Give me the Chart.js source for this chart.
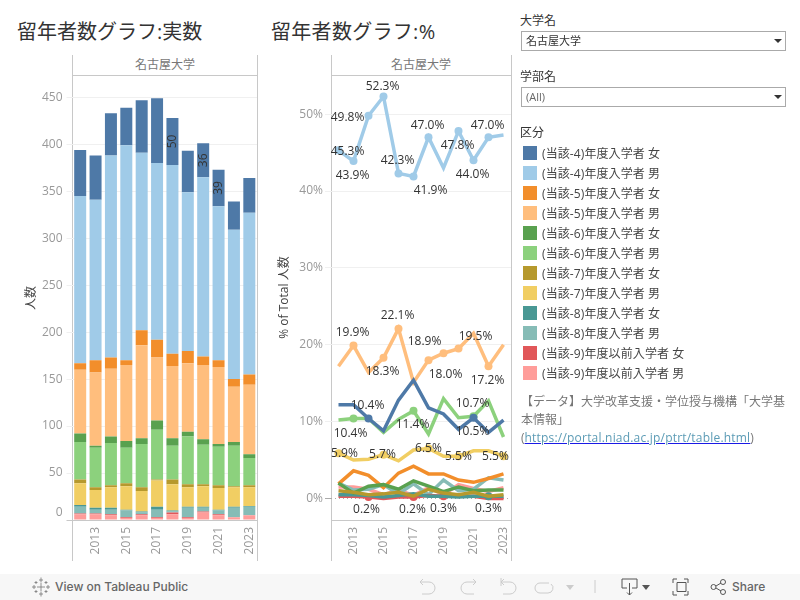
<!DOCTYPE html>
<html lang="ja">
<head>
<meta charset="utf-8">
<title>留年者数グラフ</title>
<script src="https://cdn.jsdelivr.net/npm/chart.js@4"></script>
<style>
    html, body { margin: 0; padding: 0; background: #fff; }
    body { width: 800px; height: 600px; position: relative; overflow: hidden;
           font-family: "Open Sans", "Noto Sans CJK JP", sans-serif; color: #333; }
    .abs { position: absolute; white-space: nowrap; }
    .title { font-size: 20px; color: #333; top: 18px; line-height: 28px; }
    .facet { top: 55px; height: 20px; line-height: 20px; text-align: center; font-size: 12px; color: #777; }
    .vline { top: 55px; width: 1px; height: 506px; background: #c8c8c8; }
    .hline { top: 75px; height: 1px; background: #c8c8c8; }
    canvas { position: absolute; }
    .flabel { left: 520px; font-size: 12px; color: #333; line-height: 16px; }
    .select { left: 521px; height: 18px; border: 1px solid #aaa; font-size: 11px;
              line-height: 18px; padding-left: 4px; box-sizing: content-box; width: 259px; }
    .select i { position: absolute; right: 3px; top: 7px; width: 0; height: 0;
                border-left: 4px solid transparent; border-right: 4px solid transparent; border-top: 4px solid #333; }
    .swatch { left: 523px; width: 14px; height: 14px; }
    .ltext { left: 542px; font-size: 12px; line-height: 20px; color: #444; letter-spacing: 0.1px; }
    .source { left: 521px; top: 393px; width: 265px; white-space: normal; font-size: 12px; line-height: 18px; color: #777; }
    .source a { color: #5b9bb5; text-decoration-color: #1a1ae6; letter-spacing: 0.2px; }
    .bar { left: 0; top: 574px; width: 800px; height: 26px; background: #f7f7f7; }
    .bar span { position: absolute; top: 5px; font-family: Inter, sans-serif; font-size: 12px; font-weight: 500; color: #666; line-height: 16px; }
    .bar svg { position: absolute; left: 0; top: 0; }
</style>
</head>
<body>
<div class="abs title" style="left:17px">留年者数グラフ:実数</div>
<div class="abs title" style="left:271px;letter-spacing:0.3px">留年者数グラフ:%</div>

<div class="abs facet" style="left:73px;width:184px">名古屋大学</div>
<div class="abs facet" style="left:331px;width:180px">名古屋大学</div>
<div class="abs hline" style="left:72px;width:186px"></div>
<div class="abs hline" style="left:331px;width:181px"></div>
<div class="abs vline" style="left:72px"></div>
<div class="abs vline" style="left:257px"></div>
<div class="abs vline" style="left:331px"></div>
<div class="abs vline" style="left:511px"></div>

<canvas id="count_chart" width="253" height="497" style="left:14px;top:65px"></canvas>
<canvas id="pct_chart" width="246" height="497" style="left:275px;top:65px"></canvas>

<div class="abs flabel" style="top:13px">大学名</div>
<div class="abs select" style="top:31px">名古屋大学<i></i></div>
<div class="abs flabel" style="top:69px">学部名</div>
<div class="abs select" style="top:87px;color:#666">(All)<i></i></div>
<div class="abs flabel" style="top:125px">区分</div>
<div id="legend"></div>
<div class="abs source">【データ】大学改革支援・学位授与機構「大学基本情報」<br>(<a href="#">https://portal.niad.ac.jp/ptrt/table.html</a>)</div>

<div class="abs bar">
    <svg width="800" height="26" fill="none" stroke="#ccc" stroke-width="1">
        <path stroke="#777" stroke-width="0.8" d="M41 9v8M37 13h8M41 3.500v5M39 6h4M41 17.500v5M39 20h4M34 11v4M32 13h4M48 11v4M46 13h4M36 7v3M34.500 8.500h3M46 7v3M44.500 8.500h3M36 16v3M34.500 17.500h3M46 16v3M44.500 17.500h3"/>
        <path d="M420 8h9a6 6 0 0 1 0 12h-7M423 5l-3 3 3 3"/>
        <path d="M476 8h-9a6 6 0 0 0 0 12h7M473 5l3 3-3 3"/>
        <path d="M501 4v8M501 8h9a6 6 0 0 1 0 12h-7M504 5l-3 3 3 3"/>
        <path d="M549 9h-9a5 5 0 0 0 0 10h8a5 5 0 0 0 3-9"/>
        <path d="M566 11h8l-4 5z" fill="#ccc" stroke="none"/>
        <path d="M595 6v13"/>
        <g stroke="#555">
            <path d="M627 14h-5V5h15v9h-5M629.500 9v12M627 18.500l2.500 2.500 2.500-2.500"/>
            <path d="M673 9V5h4M684 5h4v4M673 17v4h4M684 21h4v-4M677 8.500h9v9h-9z"/>
            <circle cx="713.500" cy="13" r="2.500"/><circle cx="723" cy="8" r="2.500"/><circle cx="723" cy="18" r="2.500"/>
            <path d="M716 12l5-3M716 14l5 3"/>
        </g>
        <path d="M642 11h8l-4 5z" fill="#555" stroke="none"/>
    </svg>
    <span style="left:55px">View on Tableau Public</span>
    <span style="left:732px">Share</span>
</div>

<script>
// Dati
const years = ['2012', '2013', '2014', '2015', '2016', '2017', '2018', '2019', '2020', '2021', '2022', '2023'];
const countTicks = [0, 50, 100, 150, 200, 250, 300, 350, 400, 450];
const pctTicks = [0, 10, 20, 30, 40, 50];

const seriesNames = [
    '(当該-4)年度入学者 女', '(当該-4)年度入学者 男',
    '(当該-5)年度入学者 女', '(当該-5)年度入学者 男',
    '(当該-6)年度入学者 女', '(当該-6)年度入学者 男',
    '(当該-7)年度入学者 女', '(当該-7)年度入学者 男',
    '(当該-8)年度入学者 女', '(当該-8)年度入学者 男',
    '(当該-9)年度以前入学者 女', '(当該-9)年度以前入学者 男'
];
const seriesColors = ['#4e79a7', '#a0cbe8', '#f28e2b', '#ffbe7d', '#59a14f', '#8cd17d',
                      '#b6992d', '#f1ce63', '#499894', '#86bcb6', '#e15759', '#ff9d9a'];

// Valori assoluti
const countY4F = [49, 47, 45, 40, 56, 69, 50, 44, 36, 39, 30, 37];
const countY4M = [178, 171, 215, 229, 189, 188, 201, 169, 191, 164, 159, 172];
const countY5F = [7, 13, 12, 5, 16, 19, 13, 13, 9, 7, 8, 11];
const countY5M = [68, 78, 72, 81, 99, 67, 77, 73, 79, 82, 59, 74];
const countY6F = [9, 2, 7, 7, 6, 10, 8, 5, 6, 3, 4, 4];
const countY6M = [40, 42, 45, 38, 46, 53, 36, 51, 42, 41, 43, 29];
const countY7F = [4, 3, 2, 3, 4, 1, 5, 3, 2, 3, 1, 2];
const countY7M = [23, 19, 22, 25, 22, 28, 28, 21, 22, 23, 21, 20];
const countY8F = [2, 2, 2, 1, 1, 3, 1, 1, 1, 1, 1, 1];
const countY8M = [7, 4, 5, 7, 2, 8, 1, 10, 4, 4, 10, 9];
const countY9F = [1, 1, 1, 1, 1, 1, 2, 1, 1, 1, 0, 0];
const countY9M = [6, 6, 5, 2, 5, 2, 6, 2, 8, 5, 3, 5];

// Percentuali
const pctY4F = [12.2, 12.2, 10.4, 8.8, 12.8, 15.4, 11.8, 11.0, 9.0, 10.5, 8.6, 10.2];
const pctY4M = [45.3, 43.9, 49.8, 52.3, 42.3, 41.9, 47.0, 43.0, 47.8, 44.0, 47.0, 47.3];
const pctY5F = [1.9, 3.6, 3.0, 1.4, 3.3, 4.2, 3.2, 3.2, 2.4, 2.1, 2.6, 3.2];
const pctY5M = [17.2, 19.9, 16.4, 18.3, 22.1, 15.1, 18.0, 18.9, 19.5, 21.5, 17.2, 20.0];
const pctY6F = [2.0, 0.7, 1.6, 1.8, 1.2, 2.3, 1.6, 0.9, 1.5, 1.0, 1.1, 1.1];
const pctY6M = [10.2, 10.4, 10.4, 8.6, 10.3, 11.4, 8.4, 13.0, 10.5, 10.7, 12.7, 8.0];
const pctY7F = [1.0, 0.8, 0.5, 0.6, 0.8, 0.3, 1.2, 0.7, 0.5, 0.8, 0.3, 0.5];
const pctY7M = [5.9, 5.0, 5.1, 5.7, 4.9, 6.3, 6.5, 5.5, 5.5, 6.2, 6.2, 5.5];
const pctY8F = [0.5, 0.5, 0.4, 0.2, 0.4, 0.6, 0.3, 0.3, 0.2, 0.3, 0.3, 0.3];
const pctY8M = [2.0, 1.1, 1.2, 1.8, 0.6, 1.9, 0.5, 2.4, 1.0, 1.2, 2.7, 2.4];
const pctY9F = [0.3, 0.3, 0.2, 0.0, 0.2, 0.2, 0.4, 0.3, 0.3, 0.3, 0.0, 0.0];
const pctY9M = [1.5, 1.5, 1.2, 0.5, 1.1, 0.4, 1.4, 0.5, 1.8, 1.3, 0.9, 1.4];

const countSeries = [countY4F, countY4M, countY5F, countY5M, countY6F, countY6M, countY7F, countY7M, countY8F, countY8M, countY9F, countY9M];
const pctSeries = [pctY4F, pctY4M, pctY5F, pctY5M, pctY6F, pctY6M, pctY7F, pctY7M, pctY8F, pctY8M, pctY9F, pctY9M];

// Ordine di impilamento e di disegno (indici di seriesNames)
const stackOrder = [11, 10, 9, 8, 7, 6, 5, 4, 3, 2, 1, 0];
const lineOrder = [0, 6, 4, 2, 8, 10, 1, 3, 5, 7, 9, 11];

// Etichette: [serie, anno, dx, dy]
const countLabels = [[0, 6], [0, 8], [0, 9]];
const pctLabels = [
    [1, 0, 9, 1], [1, 1, -1, 14], [1, 2, -21, 2], [1, 3, -1, -10], [1, 4, -1, -13],
    [1, 5, 17, 14], [1, 6, -1, -12], [1, 8, -1, 14], [1, 9, -1, 14], [1, 10, -1, -12],
    [3, 1, -1, -13], [3, 3, -1, 14], [3, 4, -1, -13], [3, 6, 17, 14], [3, 7, -19, -12],
    [3, 8, 17, -12], [3, 10, -1, 14],
    [0, 2, -1, -13], [0, 9, -1, 14],
    [5, 1, -3, 15], [5, 5, -1, 14], [5, 9, -1, -13],
    [7, 0, 6, 0], [7, 3, -1, 0], [7, 6, 0, 0], [7, 8, 0, 0], [7, 11, -8, 0],
    [10, 2, -2, 13], [10, 5, -1, 13], [10, 7, 0, 12], [8, 10, 0, 12]
];

const tickGrey = '#999';
const baseFont = '"Open Sans", "Noto Sans CJK JP", sans-serif';
// margini per far entrare le etichette degli assi senza restringere l'area del grafico
const chartPadding = { top: 10, right: 10 };

// Legenda
const legendBox = document.getElementById('legend');
seriesNames.forEach((name, i) => {
    const top = 146 + i * 20;
    legendBox.insertAdjacentHTML('beforeend',
        `<div class="abs swatch" style="top:${top}px;background:${seriesColors[i]}"></div>` +
        `<div class="abs ltext" style="top:${top - 2}px">${name}</div>`);
});

// Etichette sui punti e sulle barre
const markLabels = {
    id: 'markLabels',
    afterDatasetsDraw(chart, args, opts) {
        const ctx = chart.ctx;
        ctx.save();
        ctx.fillStyle = '#333';
        ctx.font = '12px ' + baseFont;
        ctx.textAlign = 'center';
        ctx.textBaseline = 'middle';
        opts.items.forEach(item => {
            const dsIndex = chart.data.datasets.findIndex(d => d.seriesIndex === item[0]);
            const el = chart.getDatasetMeta(dsIndex).data[item[1]];
            const value = chart.data.datasets[dsIndex].data[item[1]];
            if (opts.rotated) {
                const mid = el.getCenterPoint();
                ctx.save();
                ctx.translate(mid.x, mid.y);
                ctx.rotate(-Math.PI / 2);
                ctx.fillText(String(value), 0, 0);
                ctx.restore();
            } else {
                ctx.fillText(value.toFixed(1) + '%', el.x + item[2], el.y + item[3]);
            }
        });
        ctx.restore();
    }
};

function commonX() {
    return {
        grid: { display: false },
        border: { color: '#c8c8c8' },
        afterFit: scale => { scale.height = 42; },
        ticks: {
            autoSkip: false,
            minRotation: 90,
            maxRotation: 90,
            padding: -1,
            color: tickGrey,
            font: { size: 12, family: baseFont },
            callback: (value, index) => (index % 2 === 1 ? years[index] : '')
        }
    };
}

new Chart(document.getElementById('count_chart').getContext('2d'), {
    type: 'bar',
    plugins: [markLabels],
    data: {
        labels: years,
        datasets: stackOrder.map(i => ({
            label: seriesNames[i],
            seriesIndex: i,
            data: countSeries[i],
            backgroundColor: seriesColors[i],
            borderWidth: 0,
            barPercentage: 0.78,
            categoryPercentage: 1
        }))
    },
    options: {
        responsive: false,
        animation: false,
        layout: { padding: chartPadding },
        plugins: {
            legend: { display: false },
            title: { display: false },
            tooltip: { enabled: false },
            markLabels: { items: countLabels, rotated: true }
        },
        scales: {
            x: { ...commonX(), stacked: true },
            y: {
                stacked: true,
                min: 0,
                max: 472.5,
                afterFit: scale => { scale.width = 58.5; },
                afterBuildTicks: scale => { scale.ticks = countTicks.map(v => ({ value: v })); },
                border: { display: false },
                grid: {
                    tickLength: 6,
                    color: ctx => (ctx.tick && ctx.tick.value === 0 ? '#c8c8c8' : '#f0f0f0')
                },
                title: { display: true, text: '人数', color: '#444', font: { size: 12, family: baseFont }, padding: { top: 10, bottom: 0 } },
                ticks: {
                    padding: 4,
                    color: tickGrey,
                    font: { size: 12, family: baseFont },
                    // lo zero sta dentro il riquadro, sopra l'asse
                    callback: value => (value === 0 ? ['0', ''] : String(value))
                }
            }
        }
    }
});

new Chart(document.getElementById('pct_chart').getContext('2d'), {
    type: 'line',
    plugins: [markLabels],
    data: {
        labels: years,
        datasets: lineOrder.map(i => ({
            label: seriesNames[i],
            seriesIndex: i,
            data: pctSeries[i],
            borderColor: seriesColors[i],
            backgroundColor: seriesColors[i],
            borderWidth: 3.5,
            tension: 0,
            clip: false,
            pointBorderWidth: 0,
            pointRadius: years.map((y, k) => (pctLabels.some(l => l[0] === i && l[1] === k) ? 4 : 0))
        }))
    },
    options: {
        responsive: false,
        animation: false,
        layout: { padding: chartPadding },
        plugins: {
            legend: { display: false },
            title: { display: false },
            tooltip: { enabled: false },
            markLabels: { items: pctLabels, rotated: false }
        },
        scales: {
            x: { ...commonX(), offset: true },
            y: {
                min: -2.8,
                max: 55.1,
                afterFit: scale => { scale.width = 56; },
                afterBuildTicks: scale => { scale.ticks = pctTicks.map(v => ({ value: v })); },
                border: {
                    display: false,
                    dash: ctx => (ctx.tick && ctx.tick.value === 0 ? [1, 3] : [])
                },
                grid: {
                    tickLength: 6,
                    color: ctx => (ctx.tick && ctx.tick.value === 0 ? '#aaa' : '#f0f0f0')
                },
                title: { display: true, text: '% of Total 人数', color: '#444', font: { size: 12, family: baseFont }, padding: { top: 2, bottom: 0 } },
                ticks: {
                    padding: 2,
                    color: tickGrey,
                    font: { size: 12, family: baseFont },
                    callback: value => value + '%'
                }
            }
        }
    }
});
</script>
</body>
</html>
